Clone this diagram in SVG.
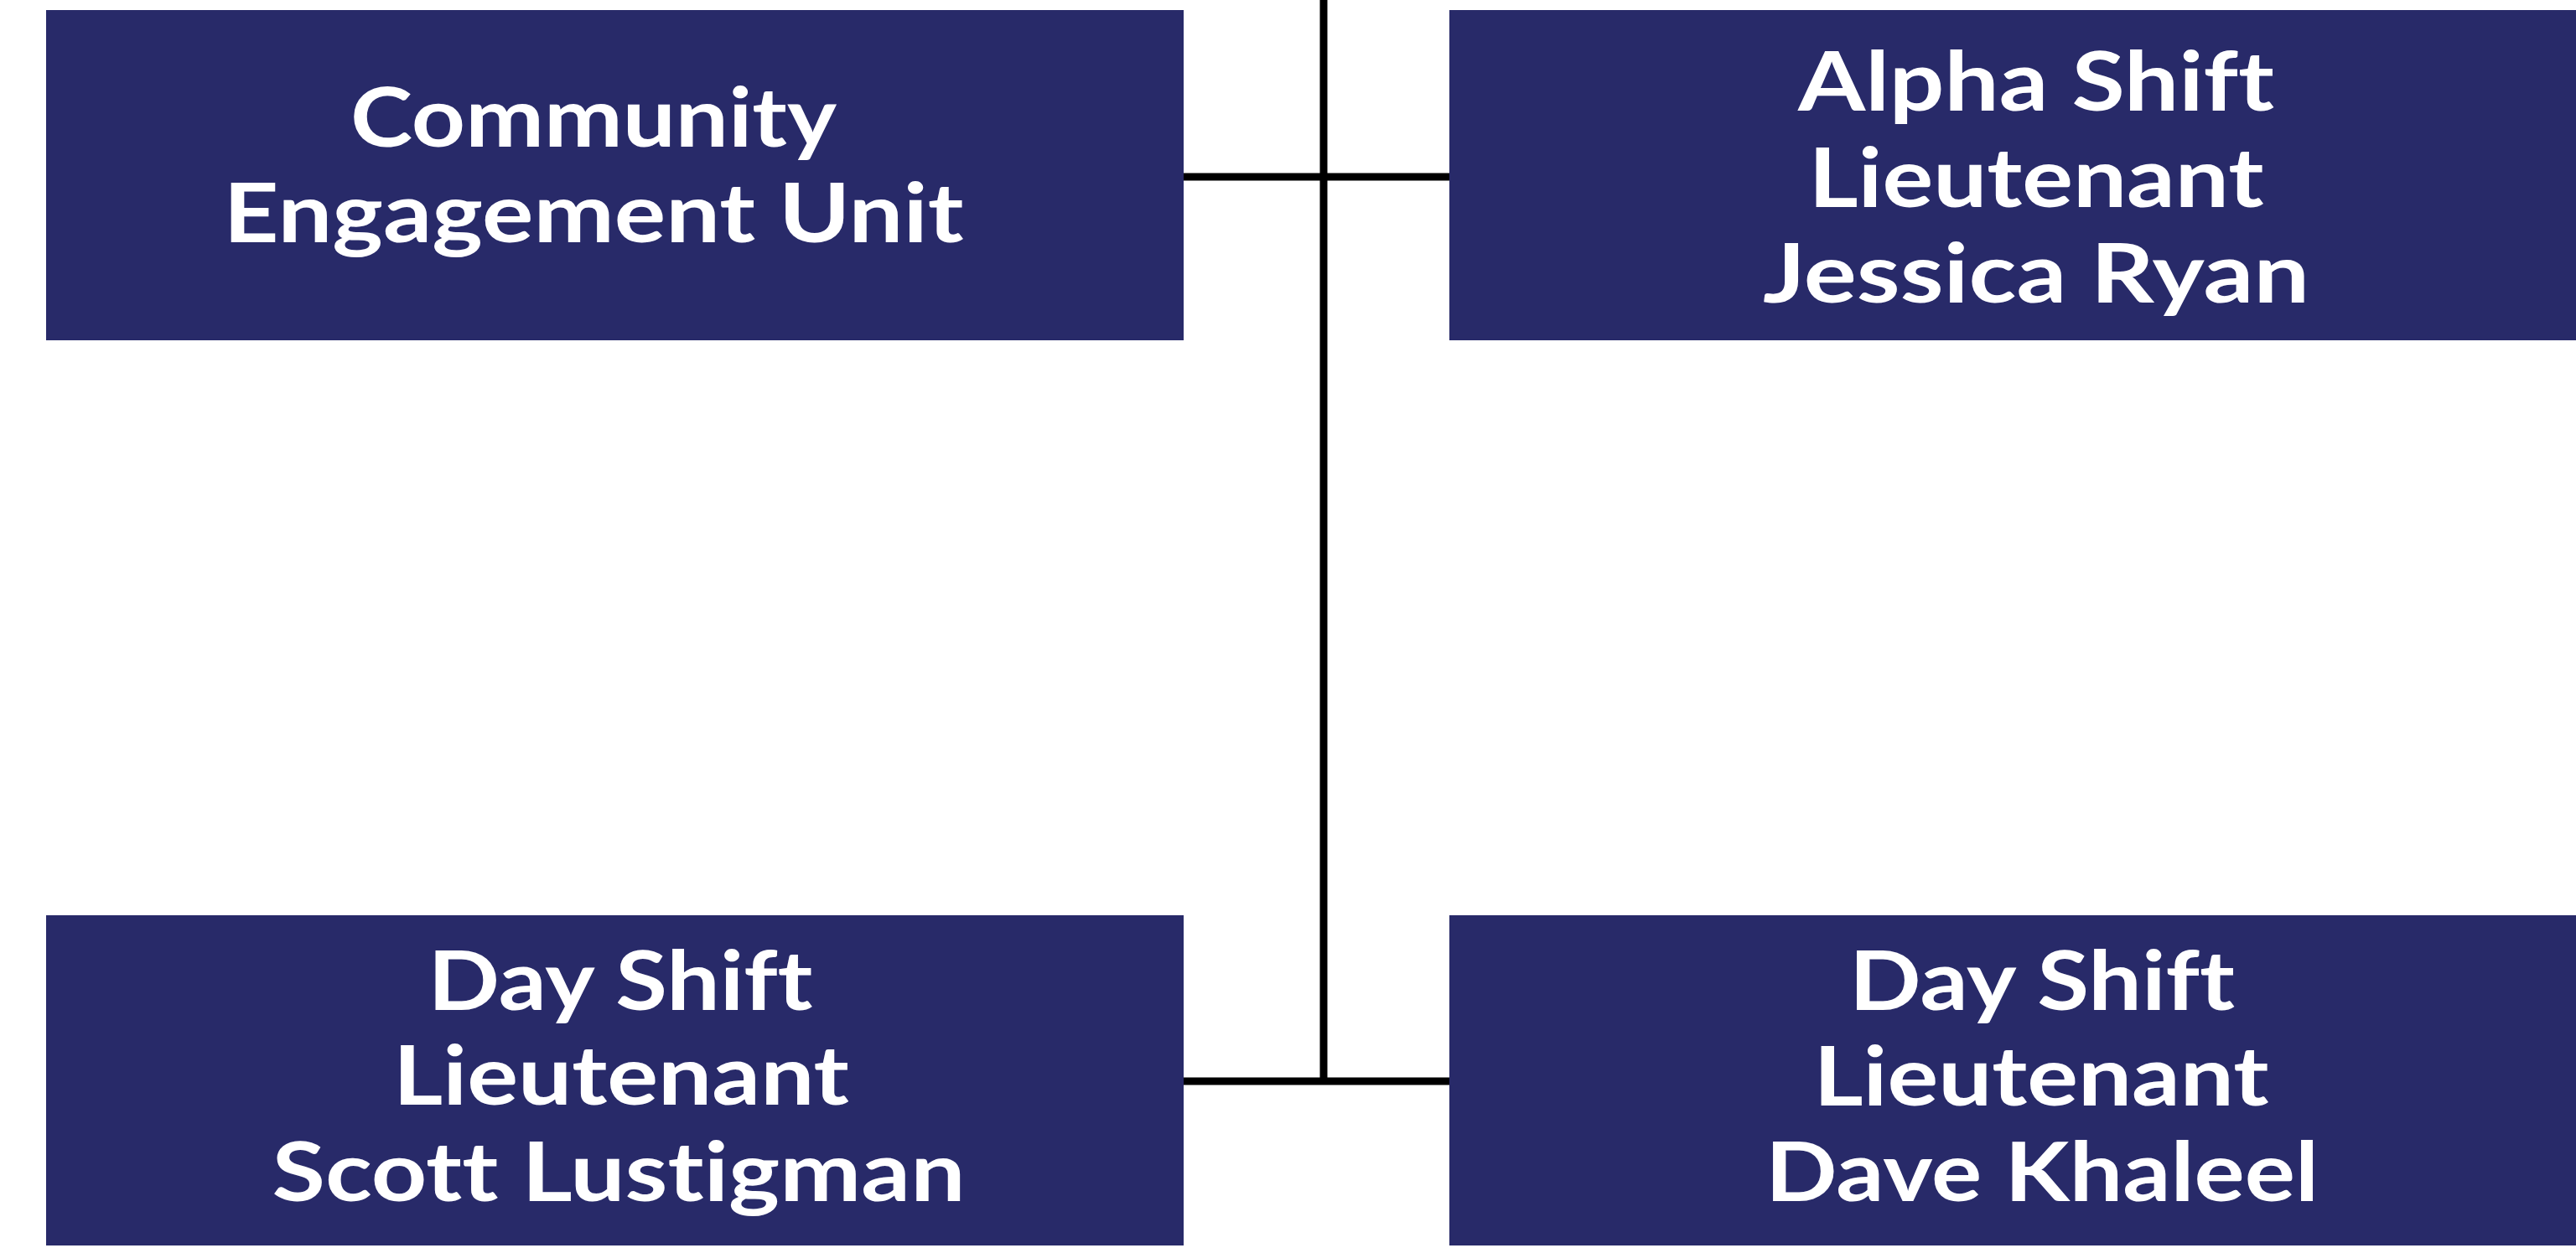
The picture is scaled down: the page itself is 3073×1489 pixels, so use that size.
<svg xmlns="http://www.w3.org/2000/svg" width="3073" height="1489" viewBox="0 0 3073 1489">
<style>
.box{fill:#282a69}
.lbl{fill:#ffffff;font-family:Lato,"Liberation Sans",sans-serif;font-weight:700;font-size:97px;text-anchor:middle;font-variant-ligatures:none;font-feature-settings:"liga" 0,"clig" 0,"dlig" 0}
.wire{stroke:#000000;stroke-width:9;fill:none}
</style>
<rect width="3073" height="1489" fill="#ffffff"/>
<g id="connectors">
<line class="wire" x1="1579" y1="0" x2="1579" y2="1294"/>
<line class="wire" x1="1412" y1="211" x2="1729" y2="211"/>
<line class="wire" x1="1412" y1="1290" x2="1729" y2="1290"/>
</g>
<g id="community-engagement-unit">
<rect class="box" x="55" y="12" width="1357" height="394"/>
<text class="lbl" x="708" y="175" textLength="580" lengthAdjust="spacingAndGlyphs">Community</text>
<text class="lbl" x="708" y="289" textLength="883" lengthAdjust="spacingAndGlyphs">Engagement Unit</text>
</g>
<g id="alpha-shift-lieutenant">
<rect class="box" x="1729" y="12" width="1344" height="394"/>
<text class="lbl" x="2429" y="132" textLength="568" lengthAdjust="spacingAndGlyphs">Alpha Shift</text>
<text class="lbl" x="2429" y="247" textLength="543" lengthAdjust="spacingAndGlyphs">Lieutenant</text>
<text class="lbl" x="2429" y="361" textLength="652" lengthAdjust="spacingAndGlyphs">Jessica Ryan</text>
</g>
<g id="day-shift-lieutenant-left">
<rect class="box" x="55" y="1092" width="1357" height="394"/>
<text class="lbl" x="740" y="1205" textLength="459" lengthAdjust="spacingAndGlyphs">Day Shift</text>
<text class="lbl" x="741" y="1318" textLength="544" lengthAdjust="spacingAndGlyphs">Lieutenant</text>
<text class="lbl" x="738" y="1433" textLength="827" lengthAdjust="spacingAndGlyphs">Scott Lustigman</text>
</g>
<g id="day-shift-lieutenant-right">
<rect class="box" x="1729" y="1092" width="1344" height="394"/>
<text class="lbl" x="2436" y="1205" textLength="460" lengthAdjust="spacingAndGlyphs">Day Shift</text>
<text class="lbl" x="2435" y="1319" textLength="543" lengthAdjust="spacingAndGlyphs">Lieutenant</text>
<text class="lbl" x="2436" y="1433" textLength="660" lengthAdjust="spacingAndGlyphs">Dave Khaleel</text>
</g>
</svg>
